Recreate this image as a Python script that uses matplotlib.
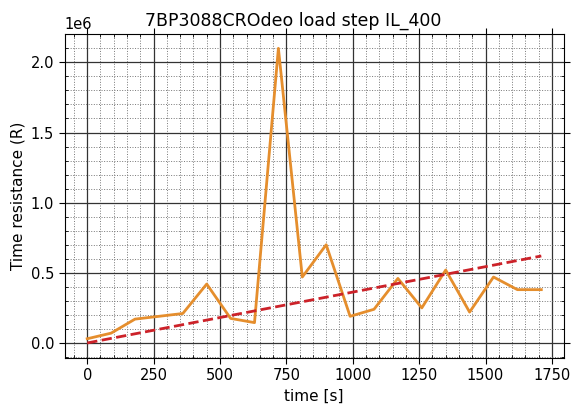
import numpy as np
import matplotlib
matplotlib.use('Agg')
import matplotlib.pyplot as plt
from matplotlib.ticker import MultipleLocator

# time steps of the load step [s]
time_s = [0, 90, 180, 270, 360, 450, 540, 630, 720, 810,
          900, 990, 1080, 1170, 1260, 1350, 1440, 1530, 1620, 1710]
# measured time resistance
resistance = [0.03e6, 0.07e6, 0.17e6, 0.19e6, 0.21e6, 0.42e6, 0.175e6, 0.145e6, 2.10e6, 0.47e6,
              0.70e6, 0.19e6, 0.24e6, 0.46e6, 0.25e6, 0.52e6, 0.22e6, 0.47e6, 0.38e6, 0.38e6]
# linear trend (end points)
trend_t = [0, 1710]
trend_r = [0.0, 0.62e6]

fig = plt.figure(figsize=(5.71, 4.07), dpi=100)
ax = fig.add_axes([64.5/571., 1-357.7/407., (564-64.5)/571., (357.7-33.6)/407.])

ax.plot(time_s, resistance, color='#e58e2d', lw=2)
ax.plot(trend_t, trend_r, '--', color='#cc2229', lw=2)

ax.xaxis.set_major_locator(MultipleLocator(250))
ax.xaxis.set_minor_locator(MultipleLocator(50))
ax.yaxis.set_major_locator(MultipleLocator(0.5e6))
ax.yaxis.set_minor_locator(MultipleLocator(0.1e6))
ax.set_xlim(-85.5, 1795.5)
ax.set_ylim(-0.105e6, 2.205e6)

ax.grid(True, which='major', color='#333333', lw=0.9, ls='-')
ax.grid(True, which='minor', color='#777777', lw=0.7, ls=':')
ax.tick_params(which='major', direction='out', top=True, right=True, length=4, labelsize=10.5)
ax.tick_params(which='minor', direction='in', top=True, right=True, length=2.5)
ax.yaxis.get_offset_text().set_fontsize(10.5)

ax.set_xlabel('time [s]', fontsize=11)
ax.set_ylabel('Time resistance (R)', fontsize=11)
ax.set_title('7BP3088CROdeo load step IL_400', fontsize=12.5, x=0.457)

fig.savefig('out.png', dpi=100)
